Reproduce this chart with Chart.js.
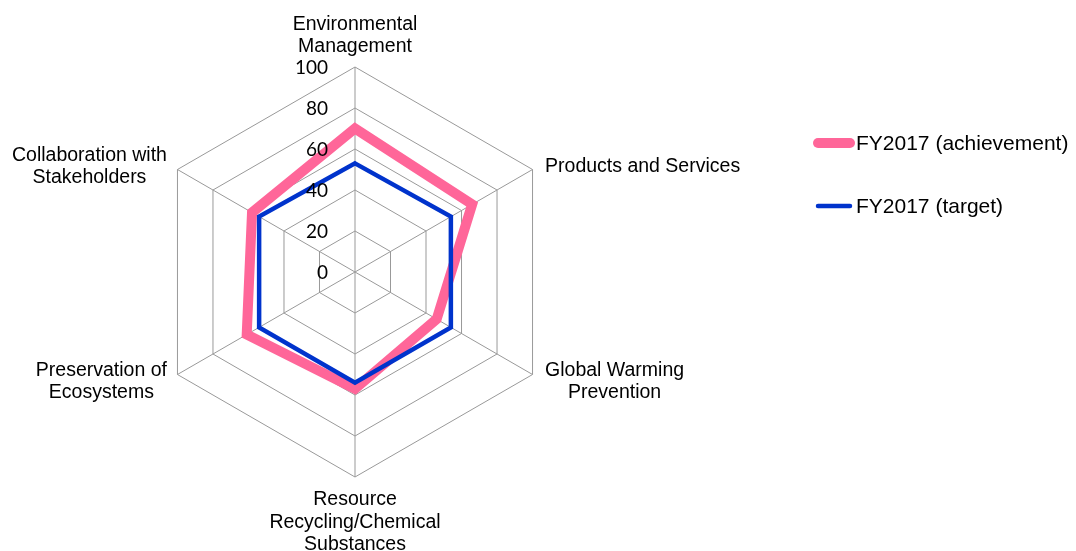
<!DOCTYPE html>
<html lang="en">
<head>
    <meta charset="UTF-8">
    <title>FY2017 environmental targets and achievements</title>
    <style>
        html, body {
            margin: 0;
            padding: 0;
            background: #fff;
        }
        #chart-container {
            position: relative;
            width: 1076px;
            height: 551px;
        }
    </style>
    <script src="https://cdn.jsdelivr.net/npm/chart.js"></script>
</head>
<body>
    <div id="chart-container">
        <canvas id="radarChart"></canvas>
    </div>

    <script>
        // categories (one entry per spoke, split into display lines)
        const categories = [
            ['Environmental', 'Management'],
            ['Products and Services'],
            ['Global Warming', 'Prevention'],
            ['Resource', 'Recycling/Chemical', 'Substances'],
            ['Preservation of', 'Ecosystems'],
            ['Collaboration with', 'Stakeholders']
        ];
        const achievement = [70, 66, 46, 57, 61, 58];
        const target = [53, 54, 54, 54, 54, 54];
        const tickValues = [0, 20, 40, 60, 80, 100];
        const seriesNames = ['FY2017 (achievement)', 'FY2017 (target)'];

        const gridColor = '#999999';

        // spoke labels, tick numbers and legend are drawn here
        const labelPlugin = {
            id: 'labelPlugin',
            afterDraw(chart) {
                const ctx = chart.ctx;
                const scale = chart.scales.r;
                ctx.save();
                ctx.fillStyle = '#000';

                // tick numbers, right aligned left of the vertical axis
                ctx.font = '19px Lato';
                ctx.textAlign = 'right';
                ctx.textBaseline = 'middle';
                tickValues.forEach(v => {
                    const y = scale.yCenter - scale.getDistanceFromCenterForValue(v);
                    ctx.fillText(String(v), scale.xCenter - 27, y + 1);
                });

                // spoke labels, each block centred line by line
                ctx.font = '19.5px "Liberation Sans", Arial, sans-serif';
                ctx.textAlign = 'center';
                const lineH = 22.5;
                categories.forEach((lines, i) => {
                    const angle = scale.getIndexAngle(i);
                    const p = scale.getPointPosition(i, scale.drawingArea);
                    const sx = Math.sin(angle);
                    const cy = -Math.cos(angle);
                    const n = lines.length;
                    const blockW = Math.max(...lines.map(t => ctx.measureText(t).width));
                    let x = p.x;
                    let firstY;
                    if (Math.abs(sx) < 0.01) {
                        firstY = cy < 0 ? p.y - 21 - (n - 1) * lineH : p.y + 22;
                    } else {
                        x = sx > 0 ? p.x + 12.5 + blockW / 2 : p.x - 10.5 - blockW / 2;
                        const mid = p.y + (cy < 0 ? -4 : 6);
                        firstY = mid - (n - 1) * lineH / 2;
                    }
                    lines.forEach((t, k) => ctx.fillText(t, x, firstY + k * lineH + 1));
                });

                // legend
                ctx.font = '21px "Liberation Sans", Arial, sans-serif';
                ctx.textAlign = 'left';
                const legendY = [143, 206];
                chart.data.datasets.forEach((ds, i) => {
                    const y = legendY[i];
                    ctx.strokeStyle = ds.borderColor;
                    ctx.lineWidth = ds.borderWidth;
                    ctx.lineCap = 'round';
                    ctx.beginPath();
                    ctx.moveTo(818, y);
                    ctx.lineTo(850, y);
                    ctx.stroke();
                    ctx.fillText(ds.label, 856, y + 1);
                });
                ctx.restore();
            }
        };

        const ctx = document.getElementById('radarChart').getContext('2d');
        new Chart(ctx, {
            type: 'radar',
            data: {
                labels: categories,
                datasets: [{
                    label: seriesNames[0],
                    data: achievement,
                    borderColor: '#ff6699',
                    borderWidth: 10,
                    borderJoinStyle: 'miter',
                    pointRadius: 0,
                    fill: false,
                    tension: 0,
                    order: 2
                }, {
                    label: seriesNames[1],
                    data: target,
                    borderColor: '#0033cc',
                    borderWidth: 4.5,
                    borderJoinStyle: 'miter',
                    pointRadius: 0,
                    fill: false,
                    tension: 0,
                    order: 1
                }]
            },
            options: {
                responsive: true,
                maintainAspectRatio: false,
                animation: false,
                layout: {
                    padding: { left: 150, right: 516, top: 67, bottom: 74 }
                },
                plugins: {
                    legend: { display: false },
                    tooltip: { enabled: false }
                },
                scales: {
                    r: {
                        min: 0,
                        max: 100,
                        ticks: { stepSize: 20, display: false },
                        grid: { color: gridColor, lineWidth: 1, circular: false },
                        angleLines: { color: gridColor, lineWidth: 1 },
                        pointLabels: { display: false }
                    }
                }
            },
            plugins: [labelPlugin]
        });
    </script>
</body>
</html>
